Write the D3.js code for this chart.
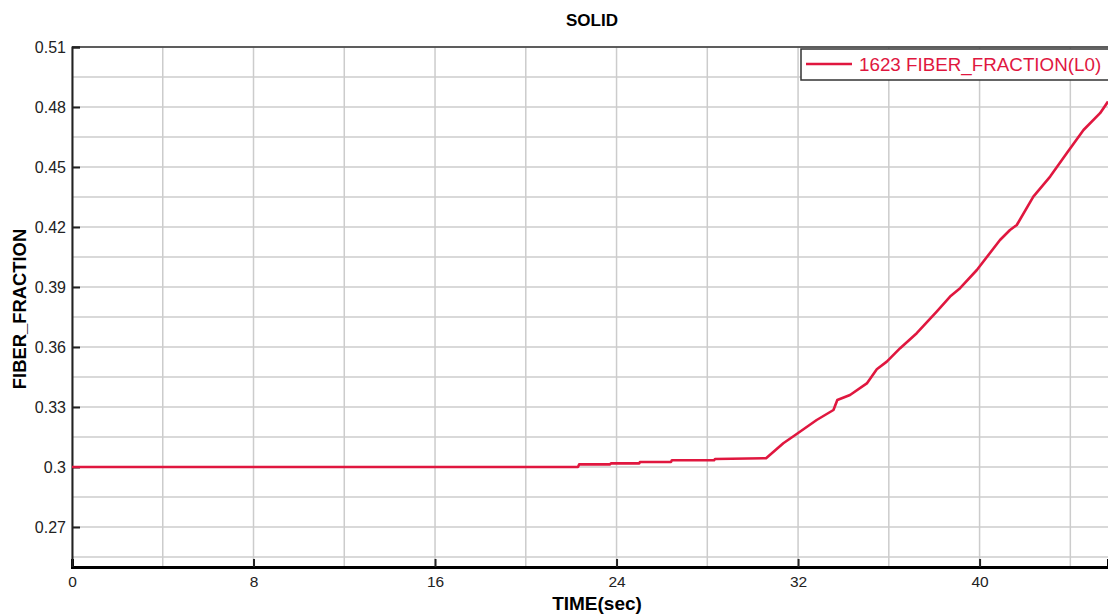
<!DOCTYPE html>
<html>
<head>
<meta charset="utf-8">
<script src="https://cdn.jsdelivr.net/npm/d3@7"></script>
<style>
  body { margin: 0; background: #fff; }
  text { font-family: "Liberation Sans", Arial, sans-serif; }
</style>
</head>
<body>
<svg id="chart" width="1108" height="614"></svg>
<script>
// time (sec) and fiber fraction
var times = [0, 4, 8, 12, 16, 20, 22.3, 22.35, 23.7, 23.75, 25.0, 25.03, 26.4, 26.44, 28.3, 28.34, 30.59,
  31.35, 31.94, 32.82, 33.56, 33.73, 34.29, 35.03, 35.47, 35.91, 36.5, 37.23, 38.11, 38.7, 39.14,
  39.88, 40.9, 41.34, 41.64, 42.37, 43.11, 43.84, 44.58, 45.31, 45.66];
var fraction = [0.3, 0.3, 0.3, 0.3, 0.3, 0.3, 0.3, 0.3013, 0.3013, 0.3018, 0.3018, 0.3025, 0.3025, 0.3034, 0.3034, 0.304, 0.3044,
  0.3119, 0.3165, 0.3235, 0.3285, 0.3335, 0.336, 0.3418, 0.3489, 0.3527, 0.3594, 0.3669, 0.3777, 0.3852, 0.3894,
  0.3985, 0.4135, 0.4185, 0.421, 0.4352, 0.4452, 0.4569, 0.4685, 0.4769, 0.4827];

var xTicks = [0, 8, 16, 24, 32, 40];
var yTicks = [0.27, 0.3, 0.33, 0.36, 0.39, 0.42, 0.45, 0.48, 0.51];
var seriesName = "1623 FIBER_FRACTION(L0)";

var svg = d3.select("#chart"),
  margin = {top: 47, left: 72, bottom: 47, right: 0},
  width = +svg.attr("width"),
  height = +svg.attr("height");

var red = "#e0173f";

var x = d3.scaleLinear()
  .domain([0, 45.66])
  .range([margin.left, width - margin.right]);

var y = d3.scaleLinear()
  .domain([0.25, 0.51])
  .range([height - margin.bottom, margin.top]);

// grid
var gx = d3.range(0, 45.7, 4);
var gy = d3.range(0.255, 0.5101, 0.015);

svg.append("g").selectAll("line").data(gx).enter().append("line")
  .attr("x1", d => x(d)).attr("x2", d => x(d))
  .attr("y1", y(0.51)).attr("y2", y(0.25))
  .attr("stroke", "#cccccc").attr("stroke-width", 1.5);

svg.append("g").selectAll("line").data(gy).enter().append("line")
  .attr("x1", x(0)).attr("x2", width)
  .attr("y1", d => y(d)).attr("y2", d => y(d))
  .attr("stroke", "#cccccc").attr("stroke-width", 1.5);

// top border
svg.append("line")
  .attr("x1", x(0)).attr("x2", width)
  .attr("y1", y(0.51)).attr("y2", y(0.51))
  .attr("stroke", "#333").attr("stroke-width", 1.5);

// axes
var yAxis = svg.append("g")
  .attr("transform", "translate(" + x(0) + ",0)")
  .call(d3.axisLeft(y).tickValues(yTicks).tickSize(-8).tickPadding(6)
    .tickFormat(d => +d.toFixed(2)))
  .call(g => g.select(".domain").attr("stroke", "#222").attr("stroke-width", 2));
yAxis.selectAll(".tick line").attr("stroke", "#222").attr("stroke-width", 2);
yAxis.selectAll("text").attr("font-size", 16).attr("fill", "#222")
  .attr("font-family", "'Liberation Sans', Arial, sans-serif");

var xAxis = svg.append("g")
  .attr("transform", "translate(0," + y(0.25) + ")")
  .call(d3.axisBottom(x).tickValues(xTicks).tickSize(-8).tickPadding(9))
  .call(g => g.select(".domain").attr("stroke", "#000").attr("stroke-width", 3));
xAxis.selectAll(".tick line").attr("stroke", "#222").attr("stroke-width", 2);
xAxis.selectAll("text").attr("font-size", 15.5).attr("fill", "#222")
  .attr("font-family", "'Liberation Sans', Arial, sans-serif");

// series
var pts = times.map((t, i) => [t, fraction[i]]);
var line = d3.line().x(d => x(d[0])).y(d => y(d[1]));

svg.append("path")
  .datum(pts)
  .attr("d", line)
  .attr("fill", "none")
  .attr("stroke", red)
  .attr("stroke-width", 2.6)
  .attr("stroke-linejoin", "round");

// legend
var lg = svg.append("g");
lg.append("rect")
  .attr("x", 801).attr("y", 49)
  .attr("width", 320).attr("height", 31)
  .attr("fill", "#fff").attr("stroke", "#333").attr("stroke-width", 1.5);
lg.append("line")
  .attr("x1", 806).attr("x2", 852)
  .attr("y1", 64).attr("y2", 64)
  .attr("stroke", red).attr("stroke-width", 2.6);
lg.append("text")
  .attr("x", 859).attr("y", 71)
  .attr("font-size", 18.8).attr("fill", red)
  .text(seriesName);

// titles
svg.append("text")
  .attr("x", 592).attr("y", 26)
  .attr("text-anchor", "middle").attr("font-size", 17).attr("font-weight", "bold")
  .text("SOLID");

svg.append("text")
  .attr("x", 597).attr("y", 610)
  .attr("text-anchor", "middle").attr("font-size", 19).attr("font-weight", "bold")
  .text("TIME(sec)");

svg.append("text")
  .attr("transform", "translate(26,309) rotate(-90)")
  .attr("text-anchor", "middle").attr("font-size", 18.4).attr("font-weight", "bold")
  .text("FIBER_FRACTION");
</script>
</body>
</html>
